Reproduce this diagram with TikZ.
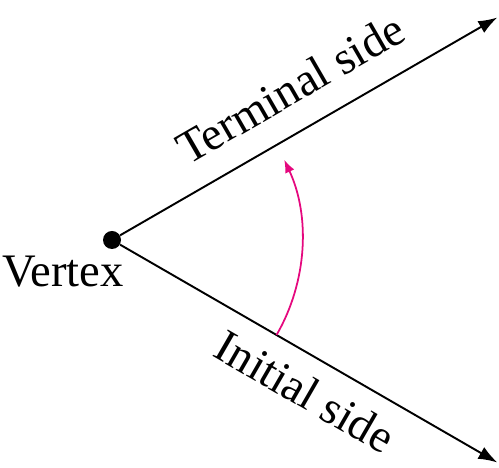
\documentclass[tikz,border=0pt]{standalone}
\usepackage{fontspec}
\setmainfont{Liberation Serif}
\usetikzlibrary{calc,positioning,arrows.meta}
\definecolor{angmag}{HTML}{E5087E}
\newcommand{\sidefont}{\fontsize{26.5}{31}\selectfont}
\tikzset{
  side/.style={
    draw=black,
    line width=1.1pt,
    -{Latex[length=3.8mm,width=2.7mm]}
  },
  sidelbl/.style={font=\sidefont, inner sep=0pt},
  vdot/.style={circle, fill=black, minimum size=3.6mm, inner sep=0pt},
  sweep/.style={draw=angmag, line width=1pt, -{Latex[length=2.6mm,width=2mm]}},
}

\begin{document}
\begin{tikzpicture}
  \useasboundingbox (0,0) rectangle (9.98,9.36);
  % vertex and the two sides
  \node[vdot] (V) at (2.24,4.56) {};
  \coordinate (Tend) at ($(V)+(30:8.9)$);
  \coordinate (Iend) at ($(V)+(-30:8.9)$);
  \draw[side] (V) -- (Tend);
  \draw[side] (V) -- (Iend);
  % labels
  \node[sidelbl, rotate=30] (Tlbl) at ($(V)+(30:4.6)+(120:0.84)$) {Terminal side};
  \node[sidelbl, rotate=-30] (Ilbl) at ($(V)+(-30:4.86)+(-120:0.69)$) {Initial side};
  \node[sidelbl] (Vlbl) at ($(V)+(-0.98,-0.64)$) {Vertex};
  % rotation
  \coordinate (A0) at ($(V)+(-30:3.8)$);
  \draw[sweep] (A0) arc[start angle=-30, end angle=25, radius=3.8];
\end{tikzpicture}
\end{document}
